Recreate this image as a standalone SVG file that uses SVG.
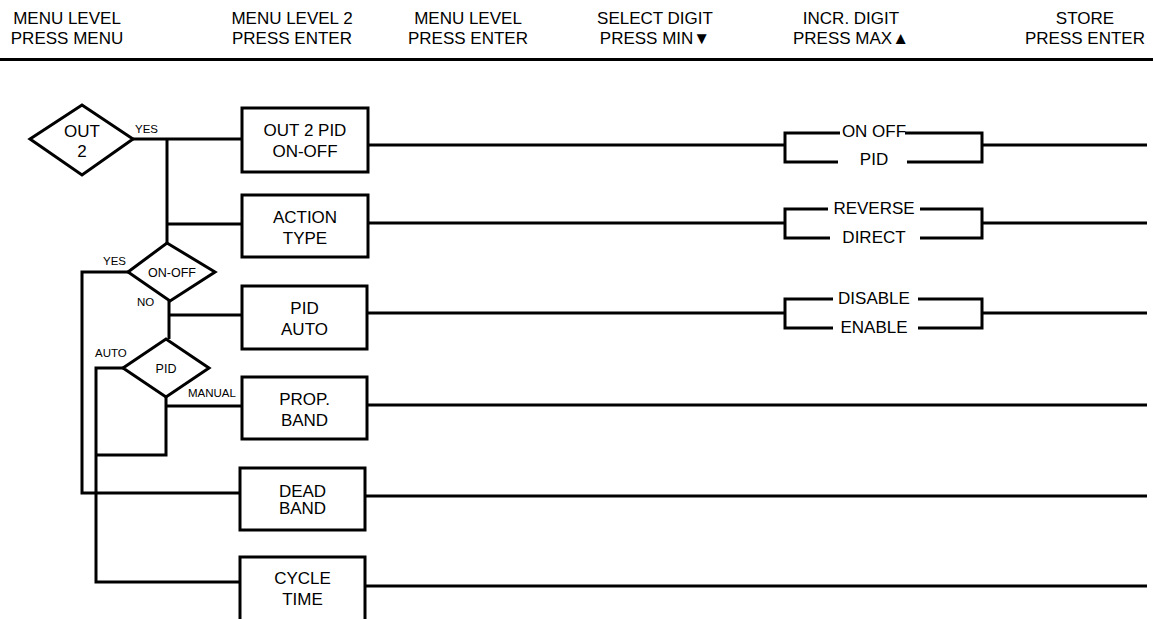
<svg xmlns="http://www.w3.org/2000/svg" width="1153" height="619" viewBox="0 0 1153 619">
<style>
.hd{font-family:"Liberation Sans",Arial,sans-serif;font-size:17px;fill:#000;text-anchor:middle}
.bx{font-family:"Liberation Sans",Arial,sans-serif;font-size:17px;fill:#000;text-anchor:middle}
.dl{font-family:"Liberation Sans",Arial,sans-serif;font-size:12.5px;fill:#000;text-anchor:middle}
.sm{font-family:"Liberation Sans",Arial,sans-serif;font-size:11.5px;fill:#000}
.shape{fill:#fff;stroke:#000;stroke-width:3}
.ln{fill:none;stroke:#000;stroke-width:3}
</style>
<rect width="1153" height="619" fill="#fff"/>
<g id="header">
<text class="hd" x="67" y="24">MENU LEVEL</text>
<text class="hd" x="67" y="44">PRESS MENU</text>
<text class="hd" x="292" y="24">MENU LEVEL 2</text>
<text class="hd" x="292" y="44">PRESS ENTER</text>
<text class="hd" x="468" y="24">MENU LEVEL</text>
<text class="hd" x="468" y="44">PRESS ENTER</text>
<text class="hd" x="655" y="24">SELECT DIGIT</text>
<text class="hd" x="655" y="44">PRESS MIN▼</text>
<text class="hd" x="851" y="24">INCR. DIGIT</text>
<text class="hd" x="851" y="44">PRESS MAX▲</text>
<text class="hd" x="1085" y="24">STORE</text>
<text class="hd" x="1085" y="44">PRESS ENTER</text>
<line class="ln" x1="0" y1="59.5" x2="1153" y2="59.5"/>
</g>
<g id="connectors">
<path class="ln" d="M133 139 H242"/>
<path class="ln" d="M167 139 V243"/>
<path class="ln" d="M167 224 H242"/>
<path class="ln" d="M128 272 H82 V493 H240"/>
<path class="ln" d="M169 301 V339"/>
<path class="ln" d="M168 315 H242"/>
<path class="ln" d="M123 368 H96 V582 H240"/>
<path class="ln" d="M166 397 V455 H96"/>
<path class="ln" d="M166 406 H242"/>
<path class="ln" d="M368 145 H785"/>
<path class="ln" d="M368 223 H785"/>
<path class="ln" d="M367 313 H785"/>
<path class="ln" d="M982 145 H1147"/>
<path class="ln" d="M982 223 H1147"/>
<path class="ln" d="M982 313 H1147"/>
<path class="ln" d="M367 405 H1147"/>
<path class="ln" d="M365 496 H1147"/>
<path class="ln" d="M365 586 H1147"/>
<text class="sm" x="135" y="133">YES</text>
<text class="sm" x="103" y="265">YES</text>
<text class="sm" x="137" y="306">NO</text>
<text class="sm" x="95" y="357">AUTO</text>
<text class="sm" x="188" y="397">MANUAL</text>
</g>
<g id="out2">
<polygon class="shape" points="30,139 82,105 133,139 82,175"/>
<text class="bx" x="82" y="137">OUT</text>
<text class="bx" x="82" y="157">2</text>
</g>
<g id="onoff-decision">
<polygon class="shape" points="128,272 167,243 215,272 170,301"/>
<text class="dl" x="172" y="277">ON-OFF</text>
</g>
<g id="pid-decision">
<polygon class="shape" points="123,368 166,339 209,368 166,397"/>
<text class="dl" x="166" y="373">PID</text>
</g>
<g id="out2pid">
<rect class="shape" x="242" y="108" width="126" height="64"/>
<text class="bx" x="305" y="136">OUT 2 PID</text>
<text class="bx" x="305" y="157">ON-OFF</text>
</g>
<g id="action">
<rect class="shape" x="242" y="195" width="126" height="62"/>
<text class="bx" x="305" y="223">ACTION</text>
<text class="bx" x="305" y="244">TYPE</text>
</g>
<g id="pidauto">
<rect class="shape" x="242" y="286" width="125" height="63"/>
<text class="bx" x="304.5" y="314">PID</text>
<text class="bx" x="304.5" y="335">AUTO</text>
</g>
<g id="propband">
<rect class="shape" x="242" y="377" width="125" height="62"/>
<text class="bx" x="304.5" y="405">PROP.</text>
<text class="bx" x="304.5" y="426">BAND</text>
</g>
<g id="deadband">
<rect class="shape" x="240" y="468" width="125" height="62"/>
<text class="bx" x="302.5" y="497">DEAD</text>
<text class="bx" x="302.5" y="514">BAND</text>
</g>
<g id="cycletime">
<rect class="shape" x="240" y="557" width="125" height="64"/>
<text class="bx" x="302.5" y="584">CYCLE</text>
<text class="bx" x="302.5" y="605">TIME</text>
</g>
<g id="opt-onoff-pid">
<path class="ln" d="M840 133 H785 V162 H838 M907 162 H982 V133 H905"/>
<text class="bx" x="874" y="137">ON OFF</text>
<text class="bx" x="874" y="165">PID</text>
</g>
<g id="opt-reverse-direct">
<path class="ln" d="M828 209 H785 V238 H830 M920 238 H982 V209 H920"/>
<text class="bx" x="874" y="214">REVERSE</text>
<text class="bx" x="874" y="243">DIRECT</text>
</g>
<g id="opt-disable-enable">
<path class="ln" d="M833 299 H785 V328 H833 M918 328 H982 V299 H918"/>
<text class="bx" x="874" y="304">DISABLE</text>
<text class="bx" x="874" y="333">ENABLE</text>
</g>
</svg>
